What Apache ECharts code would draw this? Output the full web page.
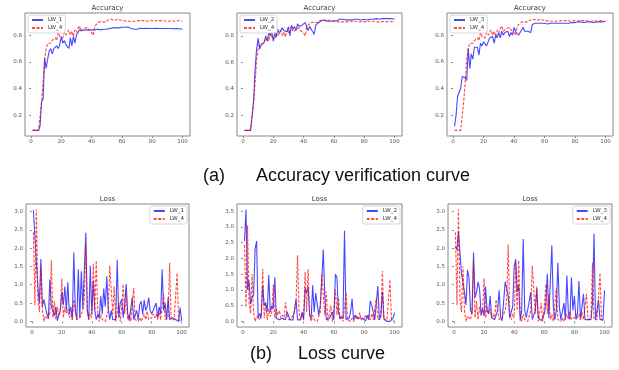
<!DOCTYPE html>
<html>
<head>
<meta charset="utf-8">
<script src="https://cdn.jsdelivr.net/npm/echarts@6/dist/echarts.min.js"></script>
<style>
  html, body { margin: 0; padding: 0; background: #fff; }
  #chart { width: 619px; height: 370px; }
</style>
</head>
<body>
<div id="chart"></div>
<script>
// epochs on the x axis
const epochs = [
  1, 2, 3, 4, 5, 6, 7, 8, 9, 10, 11, 12, 13, 14, 15, 16, 17, 18, 19, 20,
  21, 22, 23, 24, 25, 26, 27, 28, 29, 30, 31, 32, 33, 34, 35, 36, 37, 38, 39, 40,
  41, 42, 43, 44, 45, 46, 47, 48, 49, 50, 51, 52, 53, 54, 55, 56, 57, 58, 59, 60,
  61, 62, 63, 64, 65, 66, 67, 68, 69, 70, 71, 72, 73, 74, 75, 76, 77, 78, 79, 80,
  81, 82, 83, 84, 85, 86, 87, 88, 89, 90, 91, 92, 93, 94, 95, 96, 97, 98, 99, 100
];

const xTicks = [0, 20, 40, 60, 80, 100];
const accTicks = [0.2, 0.4, 0.6, 0.8];
const lossTicks = [0.0, 0.5, 1.0, 1.5, 2.0, 2.5, 3.0];
const lossTicks2 = [0.0, 0.5, 1.0, 1.5, 2.0, 2.5, 3.0, 3.5];

// accuracy curves
const accLW1 = [
  0.085, 0.085, 0.085, 0.085, 0.085, 0.12, 0.30, 0.32, 0.63, 0.55,
  0.62, 0.68, 0.70, 0.66, 0.70, 0.69, 0.72, 0.70, 0.73, 0.79,
  0.74, 0.76, 0.73, 0.72, 0.70, 0.78, 0.72, 0.79, 0.74, 0.80,
  0.82, 0.84, 0.84, 0.835, 0.84, 0.84, 0.835, 0.84, 0.84, 0.84,
  0.835, 0.84, 0.84, 0.845, 0.835, 0.84, 0.84, 0.845, 0.84, 0.845,
  0.845, 0.85, 0.85, 0.855, 0.85, 0.855, 0.86, 0.855, 0.855, 0.86,
  0.855, 0.86, 0.86, 0.862, 0.855, 0.85, 0.85, 0.845, 0.84, 0.845,
  0.85, 0.852, 0.85, 0.85, 0.85, 0.852, 0.85, 0.85, 0.852, 0.85,
  0.85, 0.852, 0.85, 0.85, 0.851, 0.85, 0.85, 0.85, 0.852, 0.85,
  0.85, 0.85, 0.85, 0.849, 0.85, 0.85, 0.849, 0.848, 0.848, 0.847
];
const accLW2 = [
  0.085, 0.085, 0.085, 0.085, 0.085, 0.09, 0.30, 0.55, 0.70, 0.78,
  0.70, 0.73, 0.72, 0.75, 0.80, 0.76, 0.82, 0.80, 0.83, 0.76,
  0.82, 0.79, 0.85, 0.82, 0.83, 0.86, 0.84, 0.85, 0.83, 0.87,
  0.80, 0.88, 0.85, 0.87, 0.84, 0.89, 0.87, 0.86, 0.88, 0.89,
  0.90, 0.89, 0.84, 0.87, 0.85, 0.83, 0.81, 0.88, 0.89, 0.90,
  0.91, 0.915, 0.92, 0.92, 0.915, 0.91, 0.915, 0.91, 0.915, 0.91,
  0.92, 0.915, 0.92, 0.925, 0.92, 0.925, 0.92, 0.92, 0.925, 0.92,
  0.925, 0.92, 0.925, 0.925, 0.92, 0.925, 0.925, 0.92, 0.925, 0.925,
  0.925, 0.92, 0.925, 0.925, 0.93, 0.925, 0.925, 0.93, 0.925, 0.925,
  0.93, 0.93, 0.925, 0.93, 0.93, 0.93, 0.925, 0.93, 0.925, 0.925
];
const accLW3 = [
  0.115, 0.20, 0.34, 0.35, 0.40, 0.49, 0.49, 0.48, 0.46, 0.70,
  0.55, 0.66, 0.62, 0.71, 0.70, 0.71, 0.65, 0.74, 0.72, 0.75,
  0.74, 0.72, 0.71, 0.78, 0.77, 0.79, 0.74, 0.80, 0.78, 0.82,
  0.78, 0.83, 0.80, 0.82, 0.81, 0.83, 0.79, 0.82, 0.80, 0.86,
  0.83, 0.82, 0.80, 0.82, 0.84, 0.86, 0.83, 0.84, 0.83, 0.83,
  0.82, 0.88, 0.885, 0.89, 0.885, 0.89, 0.88, 0.89, 0.885, 0.89,
  0.88, 0.885, 0.89, 0.89, 0.895, 0.89, 0.895, 0.89, 0.885, 0.89,
  0.895, 0.89, 0.895, 0.89, 0.895, 0.89, 0.895, 0.895, 0.90, 0.895,
  0.895, 0.90, 0.895, 0.90, 0.90, 0.895, 0.90, 0.90, 0.895, 0.90,
  0.90, 0.895, 0.90, 0.90, 0.905, 0.90, 0.90, 0.90, 0.90, 0.905
];
const accLW4 = [
  0.085, 0.085, 0.085, 0.085, 0.085, 0.10, 0.30, 0.45, 0.62, 0.70,
  0.74, 0.73, 0.74, 0.76, 0.75, 0.78, 0.76, 0.82, 0.79, 0.80,
  0.78, 0.82, 0.80, 0.82, 0.84, 0.80, 0.83, 0.79, 0.84, 0.82,
  0.85, 0.87, 0.83, 0.84, 0.85, 0.84, 0.86, 0.84, 0.85, 0.82,
  0.80, 0.86, 0.88, 0.89, 0.90, 0.895, 0.90, 0.905, 0.90, 0.91,
  0.915, 0.91, 0.92, 0.915, 0.91, 0.915, 0.92, 0.925, 0.915, 0.91,
  0.91, 0.905, 0.905, 0.90, 0.905, 0.90, 0.905, 0.90, 0.905, 0.91,
  0.91, 0.91, 0.91, 0.905, 0.91, 0.91, 0.905, 0.905, 0.91, 0.91,
  0.905, 0.91, 0.91, 0.905, 0.91, 0.905, 0.91, 0.91, 0.905, 0.91,
  0.905, 0.905, 0.91, 0.91, 0.905, 0.905, 0.91, 0.905, 0.905, 0.905
];

// loss curves
const lossLW1 = [
  3.03, 2.3, 2.35, 0.9, 0.5, 1.7, 0.4, 0.6, 0.63, 0.2,
  0.1, 1.15, 0.4, 0.3, 0.15, 0.4, 0.02, 0.0, 0.3, 0.8,
  0.45, 0.95, 0.3, 1.07, 0.2, 0.4, 0.05, 1.88, 0.3, 0.05,
  1.42, 0.1, 1.37, 0.35, 0.4, 2.42, 0.3, 0.05, 1.52, 0.2,
  1.1, 0.3, 0.05, 0.2, 0.1, 0.7, 0.2, 0.9, 0.4, 1.23,
  0.35, 0.05, 0.3, 0.05, 0.02, 0.05, 1.68, 0.1, 0.5, 0.6,
  0.1, 0.5, 1.02, 0.2, 0.02, 0.05, 0.65, 0.05, 0.0, 0.3,
  0.05, 0.45, 0.55, 0.2, 0.58, 0.3, 0.4, 0.65, 0.3, 0.2,
  0.3, 0.4, 0.5, 0.1, 0.4, 0.2, 1.42, 0.3, 0.5, 0.05,
  0.65, 0.05, 0.1, 0.1, 0.05, 0.05, 0.1, 0.0, 0.38, 0.02
];
const lossLW2 = [
  2.55, 3.55, 1.0, 1.3, 0.55, 0.75, 0.85, 2.3, 2.55, 0.1,
  0.25, 0.1, 1.15, 0.5, 0.6, 0.3, 1.47, 0.3, 0.5, 0.4,
  1.4, 0.1, 0.05, 0.05, 0.02, 0.1, 0.15, 0.05, 0.3, 0.2,
  0.05, 0.02, 0.05, 0.1, 0.7, 0.05, 0.02, 0.05, 0.3, 0.05,
  1.05, 0.9, 1.1, 0.2, 0.1, 1.15, 0.3, 0.9, 0.95, 0.2,
  0.5, 1.3, 2.28, 0.8, 0.05, 0.05, 0.1, 0.05, 0.3, 0.05,
  1.5, 1.4, 0.3, 0.1, 0.05, 0.1, 2.88, 0.05, 0.0, 0.1,
  0.3, 0.72, 0.05, 0.2, 0.1, 0.05, 0.1, 0.05, 0.1, 0.05,
  0.02, 0.2, 0.05, 0.65, 0.5, 0.3, 0.05, 0.1, 1.12, 0.05,
  0.2, 0.95, 0.1, 0.05, 0.0, 0.02, 0.0, 0.02, 0.1, 0.27
];
const lossLW3 = [
  2.05, 1.95, 2.45, 2.47, 1.3, 1.3, 0.8, 0.45, 1.4, 1.2,
  0.3, 0.2, 1.88, 0.65, 0.8, 1.08, 0.9, 0.2, 0.35, 0.15,
  0.95, 0.3, 0.2, 0.7, 0.1, 0.15, 0.05, 0.1, 0.3, 0.85,
  0.1, 0.02, 0.05, 1.08, 0.9, 0.7, 0.1, 0.05, 0.4, 1.5,
  1.7, 0.8, 1.0, 0.02, 0.3, 2.25, 0.3, 0.1, 0.05, 0.55,
  0.8, 0.05, 0.02, 0.3, 0.9, 0.1, 0.05, 0.02, 0.05, 0.2,
  0.5, 1.3, 0.1, 0.05, 2.08, 0.4, 0.05, 0.3, 1.6, 0.4,
  0.05, 0.02, 0.5, 0.05, 1.25, 0.2, 0.05, 1.2, 0.3, 0.7,
  0.05, 0.2, 1.1, 0.05, 0.02, 0.75, 0.05, 0.1, 0.05, 0.02,
  0.05, 0.5, 2.4, 0.05, 0.02, 0.58, 0.05, 0.02, 0.05, 0.85
];
const lossLW4 = [
  2.43, 0.45, 3.05, 0.6, 0.25, 1.5, 0.3, 0.0, 0.15, 0.2,
  0.05, 0.25, 1.67, 0.1, 0.55, 0.05, 0.4, 0.15, 0.3, 1.17,
  0.1, 0.4, 0.2, 0.35, 0.1, 0.2, 0.05, 0.6, 0.3, 0.05,
  0.02, 0.1, 0.05, 0.3, 0.6, 2.1, 0.3, 0.05, 0.2, 0.1,
  1.57, 0.3, 1.66, 0.2, 0.0, 0.2, 0.05, 0.0, 0.0, 0.05,
  0.3, 1.52, 1.5, 0.2, 0.95, 0.0, 0.05, 0.5, 0.0, 0.4,
  1.02, 0.2, 0.75, 0.05, 0.2, 0.0, 0.05, 0.92, 0.05, 0.0,
  0.0, 0.1, 0.0, 0.05, 0.2, 0.05, 0.28, 0.05, 0.0, 0.1,
  0.2, 0.1, 0.2, 0.05, 0.25, 0.05, 0.0, 0.75, 0.05, 0.0,
  0.1, 1.6, 0.05, 0.0, 0.05, 0.0, 1.32, 0.05, 0.0, 0.0
];

const BLUE = 'rgba(0, 0, 255, 0.72)';
const RED = 'rgba(255, 0, 0, 0.72)';
const TICK = '#888';
const LABEL = '#555';

const panels = [
  { title: 'Accuracy', box: [25, 13, 165, 123], name: 'LW_1', blue: accLW1, red: accLW4, ticks: accTicks, legendTop: true },
  { title: 'Accuracy', box: [237, 13, 165, 123], name: 'LW_2', blue: accLW2, red: accLW4, ticks: accTicks, legendTop: true },
  { title: 'Accuracy', box: [447, 13, 166, 123], name: 'LW_3', blue: accLW3, red: accLW4, ticks: accTicks, legendTop: true },
  { title: 'Loss', box: [26, 204, 163, 123], name: 'LW_1', blue: lossLW1, red: lossLW4, ticks: lossTicks, legendTop: false },
  { title: 'Loss', box: [237, 204, 165, 123], name: 'LW_2', blue: lossLW2, red: lossLW4, ticks: lossTicks2, legendTop: false },
  { title: 'Loss', box: [448, 204, 164, 123], name: 'LW_3', blue: lossLW3, red: lossLW4, ticks: lossTicks, legendTop: false }
];

// matplotlib-like 5% margins around the data
const pad = () => ({
  min: (v) => v.min - 0.05 * (v.max - v.min),
  max: (v) => v.max + 0.05 * (v.max - v.min)
});

const grid = [], xAxis = [], yAxis = [], series = [], legend = [], title = [];

panels.forEach((p, i) => {
  const [l, t, w, h] = p.box;
  grid.push({ left: l, top: t, width: w, height: h, show: true, borderColor: TICK, borderWidth: 1, backgroundColor: '#fff' });

  xAxis.push({
    type: 'value', gridIndex: i, ...pad(),
    axisLine: { show: false }, splitLine: { show: false },
    axisTick: { show: true, length: 2, lineStyle: { color: TICK }, customValues: xTicks },
    axisLabel: { fontSize: 5.5, color: LABEL, margin: 3, customValues: xTicks }
  });
  yAxis.push({
    type: 'value', gridIndex: i, ...pad(),
    axisLine: { show: false }, splitLine: { show: false },
    axisTick: { show: true, length: 2, lineStyle: { color: TICK }, customValues: p.ticks },
    axisLabel: { fontSize: 5.5, color: LABEL, margin: 3, customValues: p.ticks, formatter: (v) => v.toFixed(1) }
  });

  series.push({
    name: p.name, type: 'line', xAxisIndex: i, yAxisIndex: i, symbol: 'none', silent: true,
    lineStyle: { color: BLUE, width: 1.1 }, itemStyle: { color: BLUE },
    data: epochs.map((e, k) => [e, p.blue[k]])
  });
  series.push({
    name: 'LW_4', type: 'line', xAxisIndex: i, yAxisIndex: i, symbol: 'none', silent: true,
    lineStyle: { color: RED, width: 1.1, type: [3, 1.5] }, itemStyle: { color: RED },
    data: epochs.map((e, k) => [e, p.red[k]])
  });

  const lg = {
    data: [p.name, 'LW_4'], orient: 'vertical', top: t + 2,
    itemWidth: 11, itemHeight: 5, itemGap: 2, padding: [2, 3, 2, 3],
    borderColor: '#ccc', borderWidth: 0.8, borderRadius: 2, backgroundColor: 'rgba(255,255,255,0.85)',
    selectedMode: false,
    itemStyle: { opacity: 0 },
    textStyle: { fontSize: 5.5, color: '#333', lineHeight: 6 }
  };
  if (p.legendTop) lg.left = l + 3;
  else lg.right = 619 - (l + w) + 2;
  legend.push(lg);

  title.push({
    text: p.title, left: l + w / 2, textAlign: 'center', top: t - 8, padding: 0,
    textStyle: { fontSize: 7, fontWeight: 'normal', color: '#333' }
  });
});

// figure captions
const capStyle = { fontSize: 18, fontWeight: 'normal', color: '#111', fontFamily: 'Liberation Sans' };
title.push({ text: '(a)', left: 203, top: 167, padding: 0, textStyle: capStyle });
title.push({ text: 'Accuracy verification curve', left: 256, top: 167, padding: 0, textStyle: capStyle });
title.push({ text: '(b)', left: 250, top: 345, padding: 0, textStyle: capStyle });
title.push({ text: 'Loss curve', left: 298, top: 345, padding: 0, textStyle: capStyle });

const chart = echarts.init(document.getElementById('chart'), null, { renderer: 'canvas' });
chart.setOption({
  backgroundColor: '#fff',
  animation: false,
  textStyle: { fontFamily: 'DejaVu Sans' },
  title, legend, grid, xAxis, yAxis, series
});
</script>
</body>
</html>
